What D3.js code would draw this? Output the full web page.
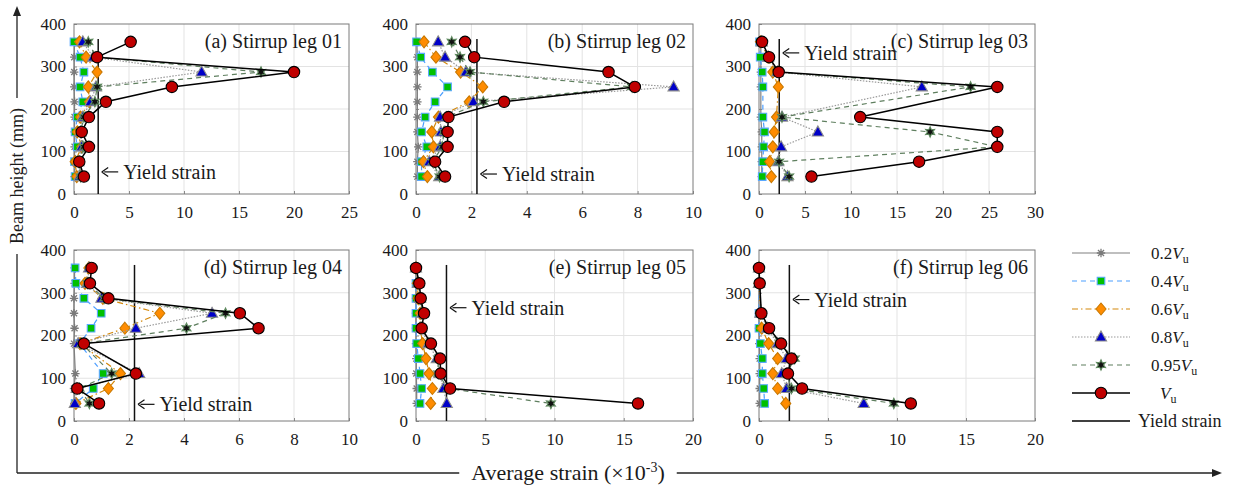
<!DOCTYPE html>
<html><head><meta charset="utf-8">
<script src="https://cdn.jsdelivr.net/npm/d3@7"></script>
<style>
body{margin:0;background:#fff}
svg{display:block}
text{font-family:"Liberation Serif","Times New Roman",serif;fill:#1a1a1a}
</style>
</head><body>
<svg id="c" width="1234" height="488"></svg>
<script>
// ---------- DATA ----------
const heights = [358, 322, 287, 252, 217, 181, 146, 111, 76, 41]; // mm
const seriesLabels = ["0.2", "0.4", "0.6", "0.8", "0.95", ""];
const panelTitles = ["(a) Stirrup leg 01", "(b) Stirrup leg 02", "(c) Stirrup leg 03",
                     "(d) Stirrup leg 04", "(e) Stirrup leg 05", "(f) Stirrup leg 06"];
const xMaxes = [25, 10, 30, 10, 20, 20];
const xSteps = [5, 2, 5, 2, 5, 5];
const yTickValues = [0, 100, 200, 300, 400];
const yieldStrain = 2.2;
const yieldLineTop = 365;
const yieldLabelHeights = [52, 47, 332, 39, 265, 284];

// panel (a)
const a02 = [0.05, 0.02, 0.02, 0.02, 0.05, 0.05, 0.05, 0.05, 0.05, 0.05];
const a04 = [0.0, 0.55, 0.9, 0.55, 0.8, 0.3, 0.1, 0.3, 0.05, 0.1];
const a06 = [0.5, 1.1, 2.1, 1.3, 1.4, 0.6, 0.3, 0.7, 0.1, 0.25];
const a08 = [0.8, 1.75, 11.6, 2.0, 1.5, 0.8, 0.6, 0.7, 0.4, 0.5];
const a095 = [1.3, 2.0, 17.0, 2.1, 1.9, 0.9, 0.6, 0.9, 0.5, 0.6];
const aVu = [5.15, 2.1, 20.0, 8.9, 2.9, 1.36, 0.7, 1.36, 0.48, 0.9];
// panel (b)
const b02 = [0.03, 0.05, 0.05, 0.05, 0.05, 0.05, 0.05, 0.08, 0.05, 0.05];
const b04 = [0.02, 0.17, 0.59, 1.14, 0.69, 0.33, 0.2, 0.39, 0.2, 0.2];
const b06 = [0.29, 0.72, 1.61, 2.41, 1.92, 0.81, 0.57, 0.63, 0.27, 0.41];
const b08 = [0.8, 1.05, 1.8, 9.3, 2.07, 0.87, 0.9, 0.87, 0.48, 0.84];
const b095 = [1.29, 1.59, 1.95, 7.8, 2.43, 1.1, 1.0, 0.95, 0.6, 0.85];
const bVu = [1.77, 2.1, 6.95, 7.9, 3.18, 1.17, 1.14, 1.14, 0.69, 1.05];
// panel (c)
const c02 = [0.2, 0.2, 0.2, 0.2, null, 0.2, 0.3, 0.3, 0.3, 0.3];
const c04 = [0.06, 0.13, 0.35, 0.42, null, 0.42, 0.6, 0.5, 0.42, 0.35];
const c06 = [0.15, 0.98, 1.5, 2.1, null, 1.9, 1.65, 1.5, 1.16, 1.34];
const c08 = [0.3, 1.0, 2.0, 17.7, null, 2.5, 6.4, 2.4, 2.1, 3.1];
const c095 = [0.3, 1.0, 2.0, 23.0, null, 2.5, 18.6, 25.9, 2.18, 3.27];
const cVu = [0.33, 1.09, 2.14, 25.9, null, 11.0, 25.9, 25.9, 17.4, 5.7];
// panel (d)
const d02 = [0.02, 0.02, 0.0, 0.0, 0.02, 0.0, null, 0.05, 0.0, 0.02];
const d04 = [0.04, 0.07, 0.36, 0.99, 0.62, 0.2, null, 1.06, 0.7, 0.04];
const d06 = [0.54, 0.4, 1.05, 3.12, 1.85, 0.22, null, 1.69, 1.25, 0.07];
const d08 = [0.55, 0.48, 1.0, 5.02, 2.25, 0.15, null, 2.37, 0.1, 0.03];
const d095 = [0.6, 0.5, 1.1, 5.51, 4.09, 0.28, null, 1.37, 0.2, 0.56];
const dVu = [0.64, 0.58, 1.25, 6.03, 6.71, 0.36, null, 2.25, 0.12, 0.91];
// panel (e)
const e02 = [0, 0, 0, 0, 0, 0, 0.02, 0.02, 0.05, 0.05];
const e04 = [0, 0, 0, 0, 0, 0.05, 0.17, 0.29, 0.41, 0.29];
const e06 = [0, 0.1, 0.15, 0.3, 0.3, 0.48, 0.72, 0.94, 1.18, 1.06];
const e08 = [0, 0.15, 0.3, 0.45, 0.35, 0.9, 1.5, 1.7, 1.98, 2.22];
const e095 = [0, 0.2, 0.3, 0.5, 0.4, 1.0, 1.6, 1.6, 2.3, 9.74];
const eVu = [0, 0.24, 0.34, 0.58, 0.41, 1.08, 1.74, 1.78, 2.46, 16.03];
// panel (f)
const f02 = [0, 0, null, 0, 0, 0.02, 0.05, 0.05, 0.05, 0.05];
const f04 = [0, 0, null, 0, 0, 0.1, 0.24, 0.24, 0.34, 0.41];
const f06 = [0, 0, null, 0.1, 0.2, 0.7, 1.35, 1.0, 1.35, 1.94];
const f08 = [0, 0, null, 0.1, 0.6, 1.35, 2.0, 1.65, 2.0, 7.59];
const f095 = [0, 0.05, null, 0.15, 0.7, 1.5, 2.59, 2.0, 2.35, 9.77];
const fVu = [0, 0.05, null, 0.17, 0.73, 1.6, 2.35, 2.1, 3.12, 11.0];

const panelData = [
  [a02, a04, a06, a08, a095, aVu],
  [b02, b04, b06, b08, b095, bVu],
  [c02, c04, c06, c08, c095, cVu],
  [d02, d04, d06, d08, d095, dVu],
  [e02, e04, e06, e08, e095, eVu],
  [f02, f04, f06, f08, f095, fVu]
];

// ---------- LAYOUT / STYLE ----------
const colX = [74, 416, 759];
const colW = [275, 277, 276];
const rowY = [24, 250];
const rowH = [170, 171];

const styles = [
  {line: "#808080", dash: null, w: 1.2, marker: "asterisk", fill: "none", stroke: "#7a7a7a"},
  {line: "#4d9fff", dash: "5,4", w: 1.2, marker: "square", fill: "#00c000", stroke: "#5aa8ff"},
  {line: "#d4880a", dash: "6,3,1.5,3", w: 1.2, marker: "diamond", fill: "#ff8c00", stroke: "#c87800"},
  {line: "#9a9a9a", dash: "1.5,1.5", w: 1.2, marker: "triangle", fill: "#0000c8", stroke: "#8c8c8c"},
  {line: "#5f7f5f", dash: "5,4", w: 1.2, marker: "hexagram", fill: "#111", stroke: "#5f8a5f"},
  {line: "#000000", dash: null, w: 1.5, marker: "circle", fill: "#c00000", stroke: "#000"}
];

function markerPath(type) {
  switch (type) {
    case "asterisk": {
      const r = 4.2, q = r * 0.72;
      return `M${-r},0L${r},0M0,${-r}L0,${r}M${-q},${-q}L${q},${q}M${-q},${q}L${q},${-q}`;
    }
    case "square": return "M-3.8,-3.8H3.8V3.8H-3.8Z";
    case "diamond": return "M0,-6L5,0L0,6L-5,0Z";
    case "triangle": return "M0,-6L5.6,4L-5.6,4Z";
    case "hexagram": {
      let p = "";
      for (let i = 0; i < 12; i++) {
        const a = -Math.PI / 2 + i * Math.PI / 6;
        const r = i % 2 === 0 ? 5.2 : 2.6;
        p += (i === 0 ? "M" : "L") + (r * Math.cos(a)).toFixed(2) + "," + (r * Math.sin(a)).toFixed(2);
      }
      return p + "Z";
    }
    case "circle": return d3.symbol(d3.symbolCircle, Math.PI * 5.7 * 5.7)();
  }
}
function drawMarker(g, type, st, x, y) {
  g.append("path").attr("d", markerPath(type))
    .attr("transform", `translate(${x},${y})`)
    .attr("fill", st.fill).attr("stroke", st.stroke)
    .attr("stroke-width", type === "asterisk" ? 1.3 : 1.1);
}

const svg = d3.select("#c");

panelData.forEach((series, pi) => {
  const col = pi % 3, row = Math.floor(pi / 3);
  const x0 = colX[col], y0 = rowY[row], w = colW[col], h = rowH[row];
  const x = d3.scaleLinear().domain([0, xMaxes[pi]]).range([x0, x0 + w]);
  const y = d3.scaleLinear().domain([0, 400]).range([y0 + h, y0]);
  const xt = d3.range(0, xMaxes[pi] + 1e-9, xSteps[pi]);
  const g = svg.append("g");

  // grid
  g.selectAll(".gx").data(xt.slice(1, -1)).join("line")
    .attr("x1", d => x(d)).attr("x2", d => x(d)).attr("y1", y0).attr("y2", y0 + h)
    .attr("stroke", "#e3e3e3").attr("stroke-width", 1);
  g.selectAll(".gy").data(yTickValues.slice(1, -1)).join("line")
    .attr("y1", d => y(d)).attr("y2", d => y(d)).attr("x1", x0).attr("x2", x0 + w)
    .attr("stroke", "#e3e3e3").attr("stroke-width", 1);

  // axes (ticks inward)
  const xa = g.append("g").attr("transform", `translate(0,${y0 + h})`)
    .call(d3.axisBottom(x).tickValues(xt).tickSizeInner(-3).tickSizeOuter(0).tickPadding(8));
  const ya = g.append("g").attr("transform", `translate(${x0},0)`)
    .call(d3.axisLeft(y).tickValues(yTickValues).tickSizeInner(-3).tickSizeOuter(0).tickPadding(8));
  [xa, ya].forEach(a => {
    a.attr("font-family", null);
    a.select(".domain").remove();
    a.selectAll("line").attr("stroke", "#8a8a8a");
    a.selectAll("text").style("font-family", '"Liberation Serif", serif').style("font-size", "17px").attr("fill", "#222");
  });
  xa.selectAll("text").attr("dy", "0.95em");
  // box
  g.append("rect").attr("x", x0).attr("y", y0).attr("width", w).attr("height", h)
    .attr("fill", "none").attr("stroke", "#7a7a7a").attr("stroke-width", 1);

  // yield line
  g.append("line").attr("x1", x(yieldStrain)).attr("x2", x(yieldStrain))
    .attr("y1", y(0)).attr("y2", y(yieldLineTop)).attr("stroke", "#111").attr("stroke-width", 1.5);

  // series
  series.forEach((vals, si) => {
    const st = styles[si];
    const pts = vals.map((v, i) => [v, heights[i]]).filter(d => d[0] !== null);
    g.append("path").datum(pts)
      .attr("d", d3.line().x(d => x(d[0])).y(d => y(d[1])))
      .attr("fill", "none").attr("stroke", st.line).attr("stroke-width", st.w)
      .attr("stroke-dasharray", st.dash);
    pts.forEach(d => drawMarker(g, st.marker, st, x(d[0]), y(d[1])));
  });

  // yield label with arrow
  const lx = x(yieldStrain), ly = y(yieldLabelHeights[pi]);
  g.append("line").attr("x1", lx + 6).attr("x2", lx + 20).attr("y1", ly).attr("y2", ly)
    .attr("stroke", "#111").attr("stroke-width", 1.2);
  g.append("path").attr("d", `M${lx + 3.5},${ly}L${lx + 10},${ly - 4.5}M${lx + 3.5},${ly}L${lx + 10},${ly + 4.5}`)
    .attr("stroke", "#111").attr("stroke-width", 1.2).attr("fill", "none");
  g.append("text").attr("x", lx + 25).attr("y", ly + 7).style("font-size", "20px").text("Yield strain");

  // title
  g.append("text").attr("x", x0 + w - 7).attr("y", y0 + 24).attr("text-anchor", "end")
    .style("font-size", "20px").text(panelTitles[pi]);
});

// ---------- Legend ----------
const lg = svg.append("g");
const legY0 = 253, legDy = 28, lx1 = 1072, lx2 = 1130, lmx = 1101;
styles.forEach((st, i) => {
  const yy = legY0 + i * legDy;
  lg.append("line").attr("x1", lx1).attr("x2", lx2).attr("y1", yy).attr("y2", yy)
    .attr("stroke", st.line).attr("stroke-width", st.w).attr("stroke-dasharray", st.dash);
  drawMarker(lg, st.marker, st, lmx, yy);
  const t = lg.append("text").attr("x", seriesLabels[i] ? 1151 : 1160).attr("y", yy + 6).style("font-size", "17px");
  if (seriesLabels[i]) t.append("tspan").text(seriesLabels[i]);
  t.append("tspan").style("font-style", "italic").text("V");
  t.append("tspan").attr("dy", 4).style("font-size", "12px").text("u");
});
{
  const yy = legY0 + 6 * legDy;
  lg.append("line").attr("x1", lx1).attr("x2", lx2).attr("y1", yy).attr("y2", yy)
    .attr("stroke", "#000").attr("stroke-width", 1.5);
  lg.append("text").attr("x", 1138).attr("y", yy + 6).style("font-size", "18px").text("Yield strain");
}

// ---------- Global axis titles with arrows ----------
const axX = 17, axY = 473, axTop = 6, axRight = 1222;
const xt = svg.append("text").attr("x", 568).attr("y", axY + 7).attr("text-anchor", "middle")
  .style("font-size", "22px");
xt.append("tspan").text("Average strain (×10");
xt.append("tspan").attr("dy", -8).style("font-size", "14px").text("-3");
xt.append("tspan").attr("dy", 8).text(")");
const xb = xt.node().getBBox();
svg.append("line").attr("x1", axX).attr("x2", xb.x - 12).attr("y1", axY).attr("y2", axY).attr("stroke", "#222").attr("stroke-width", 1.3);
svg.append("line").attr("x1", xb.x + xb.width + 12).attr("x2", axRight - 6).attr("y1", axY).attr("y2", axY).attr("stroke", "#222").attr("stroke-width", 1.3);
svg.append("path").attr("d", `M${axRight},${axY}L${axRight - 10},${axY - 4}L${axRight - 10},${axY + 4}Z`).attr("fill", "#222");

const ycx = 176;
const yt = svg.append("text").attr("transform", `translate(${axX + 6},${ycx}) rotate(-90)`)
  .attr("text-anchor", "middle").style("font-size", "18px").text("Beam height (mm)");
const ybw = yt.node().getBBox().width;
svg.append("line").attr("x1", axX).attr("x2", axX).attr("y1", axY).attr("y2", ycx + ybw / 2 + 10).attr("stroke", "#222").attr("stroke-width", 1.3);
svg.append("line").attr("x1", axX).attr("x2", axX).attr("y1", ycx - ybw / 2 - 10).attr("y2", axTop + 6).attr("stroke", "#222").attr("stroke-width", 1.3);
svg.append("path").attr("d", `M${axX},${axTop}L${axX - 4},${axTop + 10}L${axX + 4},${axTop + 10}Z`).attr("fill", "#222");
</script>
</body></html>
